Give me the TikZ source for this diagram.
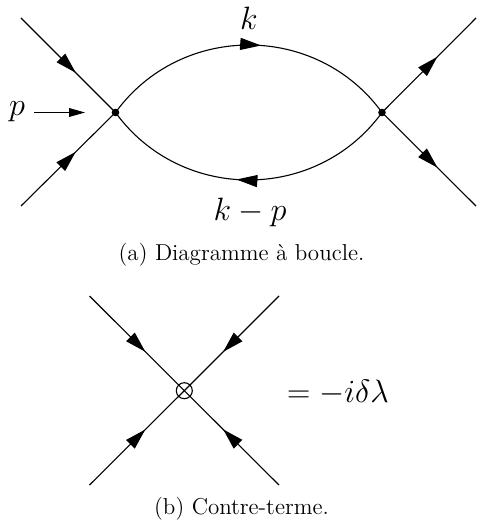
\documentclass[tikz,border=0pt]{standalone}
\usetikzlibrary{arrows.meta,decorations.markings}
\tikzset{
  line/.style={line width=0.55pt},
  flowat/.style={line, postaction={decorate}, decoration={markings,
    mark=at position #1 with {\arrow{Triangle[length=10.5pt,width=6pt]}}}},
  dot/.style={circle, fill=black, inner sep=0pt, minimum size=3.8pt},
  ct/.style={circle, draw, line width=0.55pt, inner sep=0pt, minimum size=8pt},
  momentum/.style={-{Triangle[length=8pt,width=4.4pt]}, line},
  lbl/.style={inner sep=0pt, scale=0.935, font=\fontsize{16}{20}\selectfont},
  caption/.style={inner sep=0pt, font=\fontsize{11.5}{14}\selectfont},
}
\begin{document}
\begin{tikzpicture}[x=0.5pt,y=-0.5pt]
\useasboundingbox (0,0) rectangle (476,523);

% loop diagram
\node[dot] (vl) at (115.5,112.5) {};
\node[dot] (vr) at (382,112.5) {};
\coordinate (lt) at (21,18);
\coordinate (lb) at (21,206);
\coordinate (rt) at (476,18);
\coordinate (rb) at (476,206);

\draw[flowat=0.58] (lt) -- (vl.center);
\draw[flowat=0.58] (lb) -- (vl.center);
\draw[flowat=0.59] (vr.center) -- (rt);
\draw[flowat=0.59] (vr.center) -- (rb);
\draw[flowat=0.54] (vl.center) to[out=54,in=126,looseness=1.07] (vr.center);
\draw[flowat=0.54] (vr.center) to[out=-126,in=-54,looseness=1.07] (vl.center);

\node[lbl] (p) at (17,112) {$p$};
\coordinate (pa) at (34,112.5);
\coordinate (pb) at (85,112.5);
\draw[momentum] (pa) -- (pb);
\node[lbl] (k) at (249,18) {$k$};
\node[lbl] (kp) at (250,212) {$k-p$};
\node[caption] (capa) at (241.5,255) {(a) Diagramme à boucle.};

% counterterm
\node[ct] (cv) at (184.3,390.7) {};
\coordinate (ctl) at (89.5,296);
\coordinate (ctr) at (279,296);
\coordinate (cbl) at (89.5,485);
\coordinate (cbr) at (279,485);

\draw[flowat=0.59] (ctl) -- (cv.center);
\draw[flowat=0.59] (ctr) -- (cv.center);
\draw[flowat=0.59] (cbl) -- (cv.center);
\draw[flowat=0.59] (cbr) -- (cv.center);

\node[lbl] (val) at (338,393) {$=-i\delta\lambda$};
\node[caption] (capb) at (241.5,509) {(b) Contre-terme.};
\end{tikzpicture}
\end{document}
